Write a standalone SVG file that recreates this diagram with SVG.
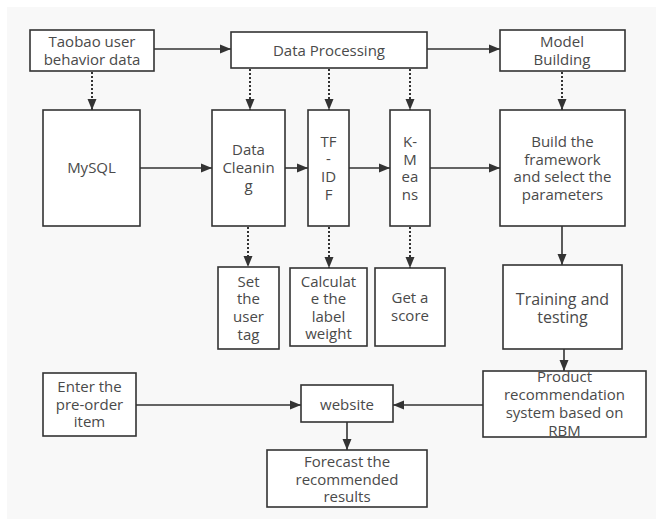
<svg xmlns="http://www.w3.org/2000/svg" width="663" height="521" viewBox="0 0 663 521">
  <style>
    .box { fill: #ffffff; stroke: #333333; stroke-width: 1.6; }
    .lbl { font-family: "Open Sans", "Noto Sans", "DejaVu Sans", sans-serif; font-size: 15px; fill: #4a4a4a; text-anchor: middle; }
    .big { font-size: 16px; }
    .solid { fill: none; stroke: #333333; stroke-width: 1.6; marker-end: url(#arrow); }
    .dot { fill: none; stroke: #333333; stroke-width: 2; stroke-dasharray: 2 2; marker-end: url(#arrow); }
  </style>
  <defs>
    <marker id="arrow" markerUnits="userSpaceOnUse" markerWidth="12" markerHeight="10" refX="11" refY="5" orient="auto">
      <path d="M0,0.5 L11,5 L0,9.5 Z" fill="#333333"/>
    </marker>
  </defs>

  <!-- canvas -->
  <rect x="0" y="0" width="663" height="521" fill="#ffffff"/>
  <rect x="7" y="7" width="649" height="512" fill="#f8f8f8"/>

  <!-- connectors -->
  <g id="connectors">
    <line class="solid" x1="154" y1="49" x2="231" y2="49"/>
    <line class="solid" x1="427" y1="49" x2="500" y2="49"/>
    <line class="dot" x1="92" y1="72" x2="92" y2="110"/>
    <line class="dot" x1="250" y1="69" x2="250" y2="110"/>
    <line class="dot" x1="329" y1="69" x2="329" y2="110"/>
    <line class="dot" x1="410" y1="69" x2="410" y2="110"/>
    <line class="dot" x1="562" y1="72" x2="562" y2="110"/>
    <line class="solid" x1="140" y1="168" x2="212" y2="168"/>
    <line class="solid" x1="285" y1="168" x2="308" y2="168"/>
    <line class="solid" x1="349" y1="168" x2="390" y2="168"/>
    <line class="solid" x1="430" y1="168" x2="500" y2="168"/>
    <line class="dot" x1="248" y1="227" x2="248" y2="267"/>
    <line class="dot" x1="329" y1="227" x2="329" y2="268"/>
    <line class="dot" x1="410" y1="227" x2="410" y2="268"/>
    <line class="solid" x1="562" y1="226" x2="562" y2="265"/>
    <line class="solid" x1="564" y1="349" x2="564" y2="371"/>
    <line class="solid" x1="136" y1="405" x2="301" y2="405"/>
    <line class="solid" x1="483" y1="405" x2="393" y2="405"/>
    <line class="solid" x1="347" y1="422" x2="347" y2="450"/>
  </g>

  <!-- nodes -->
  <g id="taobao">
    <rect class="box" x="30" y="30" width="124" height="41"/>
    <text class="lbl" x="92" y="47">Taobao user</text>
    <text class="lbl" x="92" y="65">behavior data</text>
  </g>
  <g id="data-processing">
    <rect class="box" x="231" y="32" width="196" height="36"/>
    <text class="lbl" x="329" y="56">Data Processing</text>
  </g>
  <g id="model-building">
    <rect class="box" x="500" y="30" width="125" height="41"/>
    <text class="lbl" x="562" y="47">Model</text>
    <text class="lbl" x="562" y="65">Building</text>
  </g>
  <g id="mysql">
    <rect class="box" x="43" y="110" width="97" height="116"/>
    <text class="lbl" x="91.5" y="173">MySQL</text>
  </g>
  <g id="data-cleaning">
    <rect class="box" x="212" y="110" width="73" height="116"/>
    <text class="lbl" x="248.5" y="155">Data</text>
    <text class="lbl" x="248.5" y="173">Cleanin</text>
    <text class="lbl" x="248.5" y="191">g</text>
  </g>
  <g id="tf-idf">
    <rect class="box" x="308" y="110" width="41" height="116"/>
    <text class="lbl" x="328.5" y="147">TF</text>
    <text class="lbl" x="328.5" y="164">-</text>
    <text class="lbl" x="328.5" y="182">ID</text>
    <text class="lbl" x="328.5" y="200">F</text>
  </g>
  <g id="k-means">
    <rect class="box" x="390" y="110" width="40" height="116"/>
    <text class="lbl" x="410" y="147">K-</text>
    <text class="lbl" x="410" y="165">M</text>
    <text class="lbl" x="410" y="182">ea</text>
    <text class="lbl" x="410" y="200">ns</text>
  </g>
  <g id="build-framework">
    <rect class="box" x="500" y="110" width="125" height="116"/>
    <text class="lbl" x="562.5" y="147">Build the</text>
    <text class="lbl" x="562.5" y="165">framework</text>
    <text class="lbl" x="562.5" y="182">and select the</text>
    <text class="lbl" x="562.5" y="200">parameters</text>
  </g>
  <g id="user-tag">
    <rect class="box" x="218" y="267" width="61" height="82"/>
    <text class="lbl" x="248.5" y="287">Set</text>
    <text class="lbl" x="248.5" y="304">the</text>
    <text class="lbl" x="248.5" y="322">user</text>
    <text class="lbl" x="248.5" y="340">tag</text>
  </g>
  <g id="label-weight">
    <rect class="box" x="290" y="268" width="77" height="78"/>
    <text class="lbl" x="328.5" y="287">Calculat</text>
    <text class="lbl" x="328.5" y="304">e the</text>
    <text class="lbl" x="328.5" y="322">label</text>
    <text class="lbl" x="328.5" y="339">weight</text>
  </g>
  <g id="score">
    <rect class="box" x="375" y="268" width="70" height="78"/>
    <text class="lbl" x="410" y="303">Get a</text>
    <text class="lbl" x="410" y="321">score</text>
  </g>
  <g id="training">
    <rect class="box" x="503" y="265" width="119" height="84"/>
    <text class="lbl big" x="562.5" y="305">Training and</text>
    <text class="lbl big" x="562.5" y="323">testing</text>
  </g>
  <g id="rbm-system">
    <rect class="box" x="483" y="371" width="163" height="66"/>
    <text class="lbl" x="564.5" y="382">Product</text>
    <text class="lbl" x="564.5" y="400">recommendation</text>
    <text class="lbl" x="564.5" y="418">system based on</text>
    <text class="lbl" x="564.5" y="436">RBM</text>
  </g>
  <g id="pre-order">
    <rect class="box" x="43" y="373" width="93" height="63"/>
    <text class="lbl" x="89.5" y="392">Enter the</text>
    <text class="lbl" x="89.5" y="410">pre-order</text>
    <text class="lbl" x="89.5" y="427">item</text>
  </g>
  <g id="website">
    <rect class="box" x="301" y="385" width="92" height="37"/>
    <text class="lbl" x="347" y="410">website</text>
  </g>
  <g id="forecast">
    <rect class="box" x="267" y="450" width="160" height="57"/>
    <text class="lbl" x="347" y="467">Forecast the</text>
    <text class="lbl" x="347" y="485">recommended</text>
    <text class="lbl" x="347" y="502">results</text>
  </g>
</svg>
